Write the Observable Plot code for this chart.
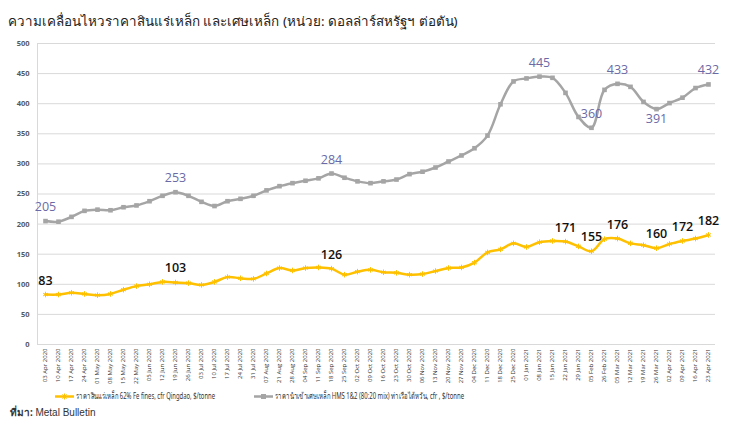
<!DOCTYPE html>
<html>
<head>
<meta charset="utf-8">
<script src="https://cdn.jsdelivr.net/npm/d3@7"></script>
<script src="https://cdn.jsdelivr.net/npm/@observablehq/plot@0.6"></script>
<style>
  body { margin: 0; background: #fff; font-family: "Noto Sans", "DejaVu Sans", sans-serif; }
  #wrap { position: relative; width: 750px; height: 422px; overflow: hidden; }
  #title { height: 22px; padding-top: 12px; padding-left: 8px; font-size: 13.4px; line-height: 19px; color: #222; white-space: nowrap; }
  #legend { position: relative; height: 16px; font-size: 8.5px; color: #333; }
  .item { position: absolute; top: 0; height: 16px; display: flex; align-items: center; white-space: nowrap; }
  .item svg { margin-right: 2px; flex: none; }
  .item span { display: inline-block; transform-origin: left center; }
  #caption { padding-left: 10px; font-size: 10px; line-height: 16px; color: #333; }
  #caption span { font-family: "Liberation Sans Narrow", "Liberation Sans", sans-serif; }
</style>
</head>
<body>
<div id="wrap">
  <div id="title">ความเคลื่อนไหวราคาสินแร่เหล็ก และเศษเหล็ก (หน่วย: ดอลล่าร์สหรัฐฯ ต่อตัน)</div>
  <div id="chart"></div>
  <div id="legend"></div>
  <div id="caption"><b>ที่มา:</b> <span>Metal Bulletin</span></div>
</div>
<script>
const dates = [
  "03 Apr 2020","10 Apr 2020","17 Apr 2020","24 Apr 2020","01 May 2020","08 May 2020","15 May 2020","22 May 2020",
  "05 Jun 2020","12 Jun 2020","19 Jun 2020","26 Jun 2020","03 Jul 2020","10 Jul 2020","17 Jul 2020","24 Jul 2020",
  "31 Jul 2020","07 Aug 2020","21 Aug 2020","28 Aug 2020","04 Sep 2020","11 Sep 2020","18 Sep 2020","25 Sep 2020",
  "02 Oct 2020","09 Oct 2020","16 Oct 2020","23 Oct 2020","30 Oct 2020","06 Nov 2020","13 Nov 2020","20 Nov 2020",
  "27 Nov 2020","04 Dec 2020","11 Dec 2020","18 Dec 2020","25 Dec 2020","01 Jan 2021","08 Jan 2021","15 Jan 2021",
  "22 Jan 2021","29 Jan 2021","05 Feb 2021","26 Feb 2021","05 Mar 2021","12 Mar 2021","19 Mar 2021","26 Mar 2021",
  "02 Apr 2021","09 Apr 2021","16 Apr 2021","23 Apr 2021"
];
const ironOre = [
  83, 83, 86, 84, 82, 84, 91, 97, 100, 104, 103, 102, 99, 104, 112, 110,
  109, 118, 127, 123, 127, 128, 126, 116, 121, 124, 120, 119, 116, 117, 122, 127,
  128, 136, 153, 158, 168, 162, 170, 172, 171, 163, 155, 175, 176, 168, 165, 160,
  167, 172, 176, 182
];
const scrap = [
  205, 204, 212, 222, 224, 223, 228, 231, 238, 247, 253, 247, 237, 230, 238, 242,
  247, 256, 263, 268, 272, 276, 284, 277, 271, 268, 271, 274, 283, 287, 294, 304,
  314, 326, 347, 399, 437, 442, 445, 443, 418, 378, 360, 423, 433, 428, 403, 391,
  401, 410, 426, 432
];
const oreLabelIdx = [0, 10, 22, 40, 42, 44, 47, 49, 51];
const scrapLabelIdx = [0, 10, 22, 38, 42, 44, 47, 51];
const scrapBelowIdx = [47];
const yTicks = [0, 50, 100, 150, 200, 250, 300, 350, 400, 450, 500];
const oreName = "ราคาสินแร่เหล็ก 62% Fe fines, cfr Qingdao, $/tonne";
const scrapName = "ราคานำเข้าเศษเหล็ก HMS 1&2 (80:20 mix) ท่าเรือไต้หวัน, cfr , $/tonne";

const ORE = "#ffc000", SCRAP = "#a5a5a5";
const data = dates.map((d, i) => ({date: d, ore: ironOre[i], scrap: scrap[i]}));
const oreLabels = oreLabelIdx.map(i => data[i]);
const scrapAbove = scrapLabelIdx.filter(i => !scrapBelowIdx.includes(i)).map(i => data[i]);
const scrapBelow = scrapBelowIdx.map(i => data[i]);

const chart = Plot.plot({
  width: 750,
  height: 354,
  marginTop: 9,
  marginBottom: 44,
  marginLeft: 37,
  marginRight: 35,
  style: {fontFamily: "'Open Sans', 'Noto Sans', sans-serif", background: "#fff", overflow: "visible"},
  x: {type: "point", domain: dates, padding: 0.55},
  y: {domain: [0, 500]},
  marks: [
    Plot.ruleY(yTicks, {stroke: "#d9d9d9", strokeWidth: 1}),
    Plot.frame({anchor: "left", stroke: "#d9d9d9"}),
    Plot.axisY({ticks: yTicks, tickSize: 0, tickPadding: 8, fontSize: 7.5, fontWeight: "bold", fill: "#595959", label: null}),
    Plot.axisX({tickSize: 0, tickPadding: 4, tickRotate: -90, fontSize: 6, fill: "#333", label: null}),
    Plot.line(data, {x: "date", y: "scrap", stroke: SCRAP, strokeWidth: 2.5, curve: "catmull-rom"}),
    Plot.dot(data, {x: "date", y: "scrap", symbol: "square", fill: SCRAP, r: 2.6}),
    Plot.line(data, {x: "date", y: "ore", stroke: ORE, strokeWidth: 2.5, curve: "catmull-rom"}),
    Plot.dot(data, {x: "date", y: "ore", symbol: "asterisk", stroke: ORE, strokeWidth: 1, r: 2.6}),
    Plot.text(scrapAbove, {x: "date", y: "scrap", text: d => String(d.scrap), dy: -14, fill: "#6a6aa6", fontSize: 12.5, fontWeight: 500}),
    Plot.text(scrapBelow, {x: "date", y: "scrap", text: d => String(d.scrap), dy: 10, fill: "#6a6aa6", fontSize: 12.5, fontWeight: 500}),
    Plot.text(oreLabels, {x: "date", y: "ore", text: d => String(d.ore), dy: -14, fill: "#111", fontSize: 12.5, fontWeight: 600})
  ]
});
document.getElementById("chart").appendChild(chart);

function swatch(color, symbol) {
  const s = symbol === "square"
    ? `<rect x="7" y="3" width="5" height="5" fill="${color}"/>`
    : `<path d="M9.5 2.5v6M6.5 5.5h6M7.4 3.4l4.2 4.2M11.6 3.4l-4.2 4.2" stroke="${color}" stroke-width="1"/>`;
  return `<svg width="19" height="11"><line x1="0" x2="19" y1="5.5" y2="5.5" stroke="${color}" stroke-width="2.5"/>${s}</svg>`;
}
const legend = document.getElementById("legend");
legend.innerHTML =
  `<div class="item" style="left:55px">${swatch(ORE, "asterisk")}<span data-w="139">${oreName}</span></div>` +
  `<div class="item" style="left:254px">${swatch(SCRAP, "square")}<span data-w="189">${scrapName}</span></div>`;
legend.querySelectorAll("span").forEach(sp => {
  const w = sp.getBoundingClientRect().width;
  const target = +sp.dataset.w;
  if (w > target) sp.style.transform = `scaleX(${target / w})`;
});
</script>
</body>
</html>
